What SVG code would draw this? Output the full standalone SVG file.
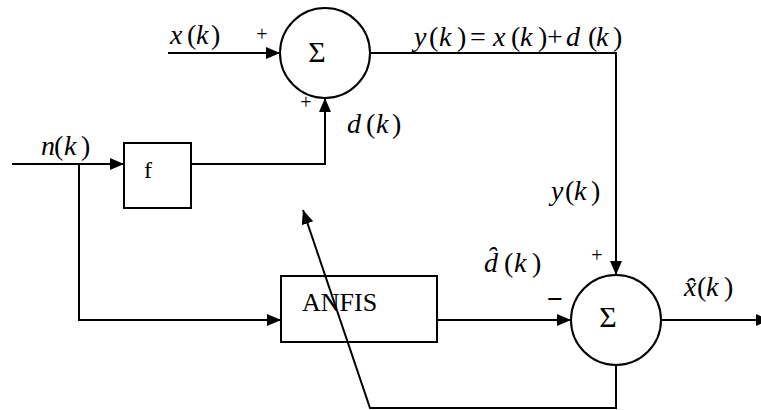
<svg xmlns="http://www.w3.org/2000/svg" width="761" height="410" viewBox="0 0 761 410">
<style>
.ln{fill:none;stroke:#000;stroke-width:2}
.bx{fill:#fff;stroke:#000;stroke-width:2}
.bo{fill:none;stroke:#000;stroke-width:2}
.i{font-style:italic}
</style>
<defs>
<marker id="ah" markerUnits="userSpaceOnUse" markerWidth="15" markerHeight="13" refX="14" refY="6" orient="auto">
<path d="M0,0 L14,6 L0,12 z" fill="#000"/>
</marker>
</defs>
<g id="sum1">
<circle class="bx" cx="325" cy="53" r="45"/>
<text x="317" y="62" text-anchor="middle" font-size="30" font-family="Liberation Serif">Σ</text>
<text x="262" y="41" text-anchor="middle" font-size="20" font-family="Liberation Serif">+</text>
<text x="306" y="109" text-anchor="middle" font-size="20" font-family="Liberation Serif">+</text>
</g>
<g id="sum2">
<circle class="bx" cx="616" cy="320" r="45"/>
<text x="608" y="327" text-anchor="middle" font-size="30" font-family="Liberation Serif">Σ</text>
<text x="597" y="262" text-anchor="middle" font-size="20" font-family="Liberation Serif">+</text>
<text x="555" y="308" text-anchor="middle" font-weight="bold" font-size="28" font-family="Liberation Serif">−</text>
</g>
<g id="f">
<rect class="bx" x="124" y="143" width="67" height="65"/>
<text x="144" y="178" font-size="24" font-family="Liberation Serif">f</text>
</g>
<g id="anfis">
<rect class="bo" x="281" y="276" width="156" height="66"/>
<text x="302" y="311" font-size="26" font-family="Liberation Serif">ANFIS</text>
</g>
<g id="connectors">
<path class="ln" d="M168,53 H280" marker-end="url(#ah)"/>
<path class="ln" d="M191,164 H325 V98" marker-end="url(#ah)"/>
<path class="ln" d="M12,164 H124" marker-end="url(#ah)"/>
<path class="ln" d="M79,164 V320 H281" marker-end="url(#ah)"/>
<path class="ln" d="M370,53 H616 V275" marker-end="url(#ah)"/>
<path class="ln" d="M437,320 H571" marker-end="url(#ah)"/>
<path class="ln" d="M661,320 H770" marker-end="url(#ah)"/>
<path class="ln" d="M616,365 V408 H370 L303,210" marker-end="url(#ah)"/>
</g>
<g id="labels" font-family="Liberation Serif" font-size="28">
<text y="44"><tspan class="i" x="170">x</tspan><tspan x="187">(</tspan><tspan class="i" x="196">k</tspan><tspan x="211">)</tspan></text>
<text y="155"><tspan class="i" x="41">n</tspan><tspan x="54">(</tspan><tspan class="i" x="64">k</tspan><tspan x="81">)</tspan></text>
<text y="133"><tspan class="i" x="347">d</tspan><tspan x="366">(</tspan><tspan class="i" x="376">k</tspan><tspan x="392">)</tspan></text>
<text y="200"><tspan class="i" x="551">y</tspan><tspan x="565">(</tspan><tspan class="i" x="574">k</tspan><tspan x="591">)</tspan></text>
<text y="46"><tspan class="i" x="414">y</tspan><tspan x="429">(</tspan><tspan class="i" x="439">k</tspan><tspan x="457">)</tspan><tspan x="470">=</tspan><tspan class="i" x="493">x</tspan><tspan x="511">(</tspan><tspan class="i" x="520">k</tspan><tspan x="538">)</tspan><tspan x="547">+</tspan><tspan class="i" x="566">d</tspan><tspan x="588">(</tspan><tspan class="i" x="596">k</tspan><tspan x="613">)</tspan></text>
<text y="272"><tspan class="i" x="484">d̑</tspan><tspan x="504">(</tspan><tspan class="i" x="514">k</tspan><tspan x="532">)</tspan></text>
<text y="296"><tspan class="i" x="684">x̑</tspan><tspan x="697">(</tspan><tspan class="i" x="706">k</tspan><tspan x="724">)</tspan></text>
</g>
</svg>
